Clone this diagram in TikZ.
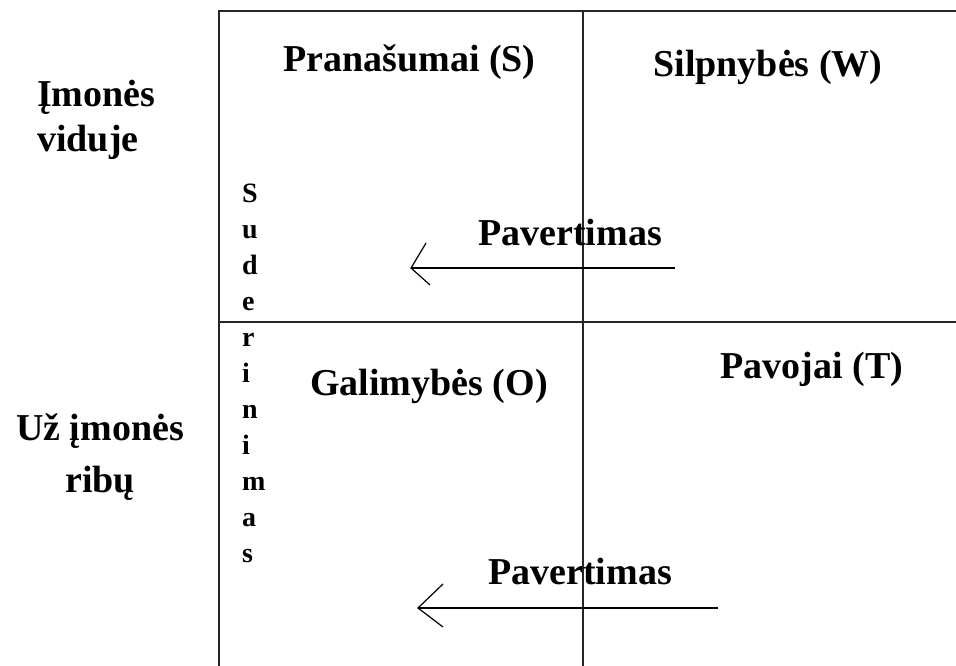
\documentclass[tikz,border=0pt]{standalone}
\usepackage{fontspec}
\setmainfont{Liberation Serif}
\begin{document}
\begin{tikzpicture}[x=1pt,y=-1pt,
  lab/.style={font=\bfseries\fontsize{38}{45}\selectfont, inner sep=0pt},
  vlet/.style={font=\bfseries\fontsize{28}{30}\selectfont, inner sep=0pt, anchor=base west},
  grid/.style={line width=2pt, black!85},
  arr/.style={line width=1.4pt},
  head/.style={line width=1.2pt}]
\useasboundingbox (0,0) rectangle (956,666);
% grid lines
\coordinate (tl) at (218.5,11);
\coordinate (tr) at (956,11);
\coordinate (bl) at (218.5,666);
\coordinate (mt) at (583,11);
\coordinate (mb) at (583,666);
\coordinate (ml) at (218.5,322);
\coordinate (mr) at (956,322);
\draw[grid] (tr) -- (tl) -- (bl);
\draw[grid] (mt) -- (mb);
\draw[grid] (ml) -- (mr);
% quadrant labels
\node[lab, anchor=base] (S) at (409.5,72) {Pranašumai (S)};
\node[lab, anchor=base] (W) at (768,77) {Silpnybės (W)};
\node[lab, anchor=base] (O) at (429,395) {Galimybės (O)};
\node[lab, anchor=base] (T) at (812,378) {Pavojai (T)};
% side labels
\node[lab, anchor=base west] (in) at (37,107) {\begin{tabular}[t]{@{}l@{}}Įmonės\\viduje\end{tabular}};
\node[lab, anchor=base] (out) at (100,440) {\fontsize{38}{52}\selectfont\begin{tabular}[t]{@{}c@{}}Už įmonės\\ribų\end{tabular}};
% vertical word
\node[vlet] (v1) at (242,202) {S};
\node[vlet] (v2) at (242,238) {u};
\node[vlet] (v3) at (242,274) {d};
\node[vlet] (v4) at (242,310) {e};
\node[vlet] (v5) at (242,346) {r};
\node[vlet] (v6) at (242,382) {i};
\node[vlet] (v7) at (242,418) {n};
\node[vlet] (v8) at (242,454) {i};
\node[vlet] (v9) at (242,490) {m};
\node[vlet] (v10) at (242,526) {a};
\node[vlet] (v11) at (242,562) {s};
% Pavertimas labels
\node[lab, anchor=base] (p1) at (570,245) {Pavertimas};
\node[lab, anchor=base] (p2) at (580,584) {Pavertimas};
% arrows
\coordinate (a1s) at (675,268);
\coordinate (a1t) at (411,268);
\coordinate (a1u) at (426,243);
\coordinate (a1d) at (430,285);
\draw[arr] (a1s) -- (a1t);
\draw[head] (a1u) -- (a1t) -- (a1d);
\coordinate (a2s) at (718,608);
\coordinate (a2t) at (418,608);
\coordinate (a2u) at (443,584);
\coordinate (a2d) at (443,627);
\draw[arr] (a2s) -- (a2t);
\draw[head] (a2u) -- (a2t) -- (a2d);
\end{tikzpicture}
\end{document}
